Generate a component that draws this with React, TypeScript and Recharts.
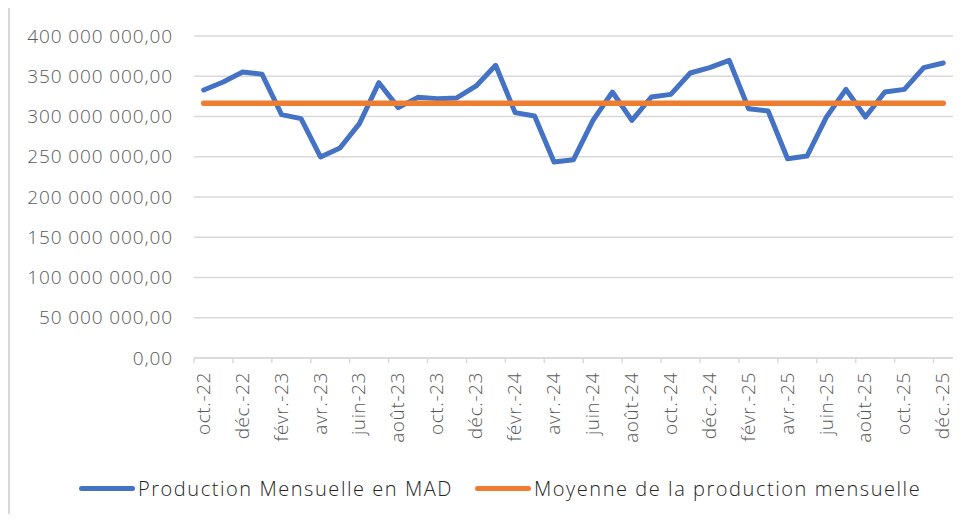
import React from 'react';
import { LineChart, Line, XAxis, YAxis, CartesianGrid, Legend } from 'recharts';

// Mois (oct. 2022 -> déc. 2025)
const months = [
  'oct.-22', 'nov.-22', 'déc.-22',
  'janv.-23', 'févr.-23', 'mars-23', 'avr.-23', 'mai-23', 'juin-23', 'juil.-23', 'août-23', 'sept.-23', 'oct.-23', 'nov.-23', 'déc.-23',
  'janv.-24', 'févr.-24', 'mars-24', 'avr.-24', 'mai-24', 'juin-24', 'juil.-24', 'août-24', 'sept.-24', 'oct.-24', 'nov.-24', 'déc.-24',
  'janv.-25', 'févr.-25', 'mars-25', 'avr.-25', 'mai-25', 'juin-25', 'juil.-25', 'août-25', 'sept.-25', 'oct.-25', 'nov.-25', 'déc.-25',
];

// Production mensuelle en MAD
const production = [
  332900000, 342900000, 355300000,
  352400000, 302300000, 297300000, 249700000, 260900000, 291100000, 342000000, 311000000, 323800000, 322200000, 323000000, 337900000,
  363600000, 304800000, 300600000, 243500000, 246400000, 295200000, 330400000, 295200000, 324200000, 327500000, 354000000, 360700000,
  369800000, 309700000, 306800000, 247600000, 250900000, 299400000, 333700000, 299400000, 330400000, 333700000, 360700000, 366500000,
];

// Moyenne de la production mensuelle
const moyenne = 316400000;

const yTicks = [0, 50000000, 100000000, 150000000, 200000000, 250000000, 300000000, 350000000, 400000000];

const data = months.map((m, i) => ({ mois: m, production: production[i], moyenne }));

const W = 968;
const H = 522;
const PLOT_LEFT = 194;
const PLOT_RIGHT = 953;
const PLOT_TOP = 36;
const PLOT_BOTTOM = 358;
const BAND = (PLOT_RIGHT - PLOT_LEFT) / months.length;
const FONT = '"Open Sans", sans-serif';

const fmt = (v: number) => {
  const s = String(Math.round(v)).replace(/\B(?=(\d{3})+(?!\d))/g, ' ');
  return s + ',00';
};

const MonthTick = (props: any) => {
  const { x, payload } = props;
  const tx = x + 6;
  const ty = PLOT_BOTTOM + 14;
  return (
    <g>
      <line x1={x - BAND / 2} x2={x - BAND / 2} y1={PLOT_BOTTOM} y2={PLOT_BOTTOM + 5} stroke="#d9d9d9" strokeWidth={1.5} />
      <text
        x={tx}
        y={ty}
        transform={`rotate(-90 ${tx} ${ty})`}
        textAnchor="end"
        fontSize={19}
        fontWeight={300}
        letterSpacing={0.6}
        fontFamily={FONT}
        fill="#595959"
      >
        {payload.value}
      </text>
    </g>
  );
};

const legendItems = [
  { label: 'Production Mensuelle en MAD', color: '#4472C4' },
  { label: 'Moyenne de la production mensuelle', color: '#ED7D31' },
];

const LegendContent = () => (
  <div style={{ display: 'flex', alignItems: 'center', fontFamily: FONT, fontSize: 20, fontWeight: 300, letterSpacing: 1.55, color: '#262626' }}>
    {legendItems.map((it, i) => (
      <div key={it.label} style={{ display: 'flex', alignItems: 'center', marginLeft: i === 0 ? 0 : 22 }}>
        <div style={{ width: 56, height: 5, borderRadius: 3, background: it.color, marginRight: 3 }} />
        <span>{it.label}</span>
      </div>
    ))}
  </div>
);

export default function App() {
  return (
    <div style={{ position: 'relative', width: W, height: H, margin: -8, overflow: 'hidden', background: '#fff' }}>
      <div
        style={{
          position: 'absolute',
          left: 8,
          top: 5,
          width: 1000,
          height: 600,
          border: '2px solid #d9d9d9',
        }}
      />
      <div style={{ position: 'absolute', left: 0, top: 0 }}>
        <LineChart
          width={W}
          height={H}
          data={data}
          margin={{ top: PLOT_TOP, right: W - PLOT_RIGHT, left: 0, bottom: 64 }}
        >
          <CartesianGrid vertical={false} stroke="#d9d9d9" strokeWidth={1.5} />
          <XAxis
            dataKey="mois"
            interval={1}
            height={100}
            tickLine={false}
            axisLine={{ stroke: '#d9d9d9', strokeWidth: 1.5 }}
            padding={{ left: BAND / 2, right: BAND / 2 }}
            tick={<MonthTick />}
          />
          <YAxis
            width={PLOT_LEFT}
            domain={[0, 400000000]}
            ticks={yTicks}
            tickFormatter={fmt}
            axisLine={false}
            tickLine={false}
            tickSize={0}
            tickMargin={21}
            tick={{ fontSize: 19, fontFamily: FONT, fontWeight: 300, letterSpacing: 0.9, fill: '#595959' }}
          />
          <Legend
            layout="horizontal"
            verticalAlign="middle"
            align="center"
            wrapperStyle={{ top: 475, left: 79, width: 900 }}
            content={<LegendContent />}
          />
          <Line
            type="linear"
            dataKey="production"
            stroke="#4472C4"
            strokeWidth={5}
            strokeLinejoin="round"
            strokeLinecap="round"
            dot={false}
            isAnimationActive={false}
          />
          <Line
            type="linear"
            dataKey="moyenne"
            stroke="#ED7D31"
            strokeWidth={5.5}
            strokeLinecap="round"
            dot={false}
            isAnimationActive={false}
          />
        </LineChart>
      </div>
    </div>
  );
}
